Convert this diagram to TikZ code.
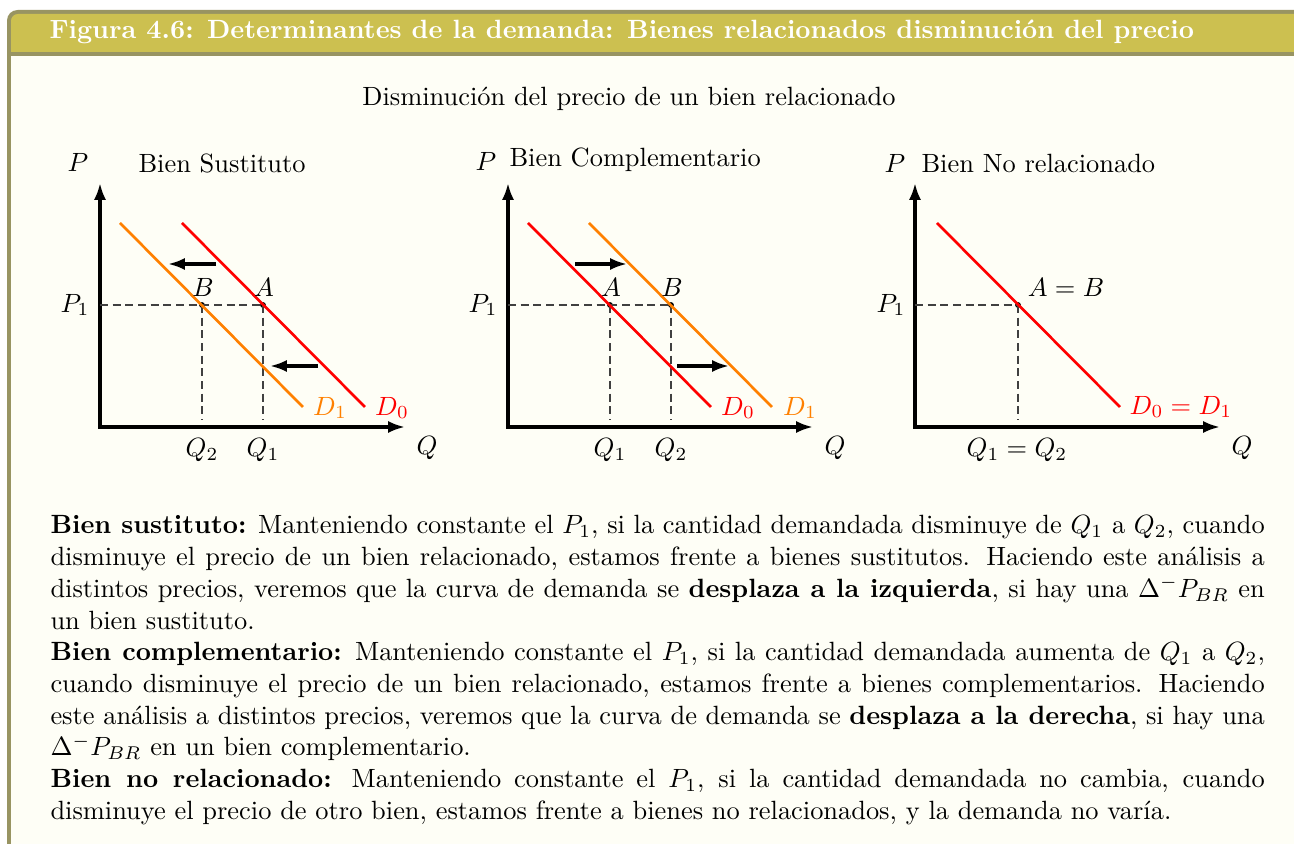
\documentclass[tikz,border=0pt]{standalone}
\usetikzlibrary{arrows.meta}
\definecolor{frameC}{RGB}{152,148,98}
\definecolor{titleC}{RGB}{204,192,80}
\definecolor{backC}{RGB}{254,254,246}
\definecolor{orangeC}{RGB}{255,128,0}
\tikzset{
  axis/.style={line width=1.2pt,{Latex[length=6.4pt,width=4.6pt]}-{Latex[length=6.4pt,width=4.6pt]}},
  shiftarrow/.style={line width=1.2pt,-{Latex[length=6.4pt,width=4.6pt]}},
  demred/.style={line width=1pt,red},
  demorange/.style={line width=1pt,orangeC},
  guide/.style={line width=0.45pt,black!75,dash pattern=on 3pt off 1.8pt},
  dotpt/.style={circle,fill=black,inner sep=0pt,minimum size=2.2pt},
  lbl/.style={inner sep=0pt}
}
\begin{document}
\begin{tikzpicture}[x=0.3788pt,y=-0.3788pt]
\useasboundingbox (0,0) rectangle (1294,844);
\clip (0,0) rectangle (1294,844);
\fill[white] (0,0) rectangle (1294,844);
% box frame
\fill[frameC,rounded corners=4pt] (7,10) rectangle (1330,900);
\fill[titleC,rounded corners=2.6pt] (11,70) -- (11,14) -- (1330,14) -- (1330,70) -- cycle;
\fill[frameC] (11,52) rectangle (1330,56);
\fill[backC] (11,56) rectangle (1330,900);
\node[lbl,anchor=base west,text=white,font=\bfseries] (title) at (49,39)
  {Figura 4.6: Determinantes de la demanda: Bienes relacionados disminución del precio};
\node[lbl,anchor=base] (sub) at (629,106) {Disminución del precio de un bien relacionado};

% ---------- Graph 1: Bien Sustituto ----------
\coordinate (o1) at (100,427);
\coordinate (y1) at (100,183);
\coordinate (x1) at (405,427);
\draw[axis] (y1) -- (o1) -- (x1);
\node[lbl,anchor=base] (P1ax) at (78,172) {$P$};
\node[lbl,anchor=base west] (t1) at (138,173) {Bien Sustituto};
\node[lbl] (Qax1) at (427,448) {$Q$};
\coordinate (d0a1) at (182,223); \coordinate (d0b1) at (365,407);
\coordinate (d1a1) at (120,223); \coordinate (d1b1) at (303,407);
\coordinate (p1l1) at (100,305);
\coordinate (qa1) at (263,420); \coordinate (qb1) at (202,420);
\node[dotpt] (A1) at (263,305) {};
\node[dotpt] (B1) at (202,305) {};
\draw[guide] (p1l1) -- (A1.center);
\draw[guide] (A1.center) -- (qa1);
\draw[guide] (B1.center) -- (qb1);
\draw[demorange] (d1a1) -- (d1b1);
\draw[demred] (d0a1) -- (d0b1);
\node[lbl] (lA1) at (264,287) {$A$};
\node[lbl] (lB1) at (203,287) {$B$};
\node[lbl] (lP11) at (75,305) {$P_1$};
\node[lbl] (lQ21) at (202,450) {$Q_2$};
\node[lbl] (lQ11) at (263,450) {$Q_1$};
\node[lbl,text=orangeC] (lD11) at (330,408) {$D_1$};
\node[lbl,text=red] (lD01) at (392,408) {$D_0$};
\coordinate (s1a) at (216,264); \coordinate (s1b) at (168,264);
\coordinate (s2a) at (318,366); \coordinate (s2b) at (270,366);
\draw[shiftarrow] (s1a) -- (s1b);
\draw[shiftarrow] (s2a) -- (s2b);

% ---------- Graph 2: Bien Complementario ----------
\coordinate (o2) at (508,427);
\coordinate (y2) at (508,183);
\coordinate (x2) at (813,427);
\draw[axis] (y2) -- (o2) -- (x2);
\node[lbl,anchor=base] (P2ax) at (486,171) {$P$};
\node[lbl,anchor=base west] (t2) at (509,167) {Bien Complementario};
\node[lbl] (Qax2) at (835,448) {$Q$};
\coordinate (d0a2) at (528,223); \coordinate (d0b2) at (711,407);
\coordinate (d1a2) at (589,223); \coordinate (d1b2) at (772,407);
\coordinate (p1l2) at (508,305);
\coordinate (qa2) at (610,420); \coordinate (qb2) at (671,420);
\node[dotpt] (A2) at (610,305) {};
\node[dotpt] (B2) at (671,305) {};
\draw[guide] (p1l2) -- (B2.center);
\draw[guide] (A2.center) -- (qa2);
\draw[guide] (B2.center) -- (qb2);
\draw[demred] (d0a2) -- (d0b2);
\draw[demorange] (d1a2) -- (d1b2);
\node[lbl] (lA2) at (611,287) {$A$};
\node[lbl] (lB2) at (672,287) {$B$};
\node[lbl] (lP12) at (483,305) {$P_1$};
\node[lbl] (lQ12) at (610,450) {$Q_1$};
\node[lbl] (lQ22) at (671,450) {$Q_2$};
\node[lbl,text=red] (lD02) at (738,408) {$D_0$};
\node[lbl,text=orangeC] (lD12) at (800,408) {$D_1$};
\coordinate (s3a) at (575,264); \coordinate (s3b) at (627,264);
\coordinate (s4a) at (677,366); \coordinate (s4b) at (729,366);
\draw[shiftarrow] (s3a) -- (s3b);
\draw[shiftarrow] (s4a) -- (s4b);

% ---------- Graph 3: Bien No relacionado ----------
\coordinate (o3) at (915,427);
\coordinate (y3) at (915,183);
\coordinate (x3) at (1220,427);
\draw[axis] (y3) -- (o3) -- (x3);
\node[lbl,anchor=base] (P3ax) at (895,173) {$P$};
\node[lbl,anchor=base west] (t3) at (921,173) {Bien No relacionado};
\node[lbl] (Qax3) at (1242,448) {$Q$};
\coordinate (d0a3) at (937,223); \coordinate (d0b3) at (1120,407);
\coordinate (p1l3) at (915,305);
\coordinate (qa3) at (1018,420);
\node[dotpt] (A3) at (1018,305) {};
\draw[guide] (p1l3) -- (A3.center);
\draw[guide] (A3.center) -- (qa3);
\draw[demred] (d0a3) -- (d0b3);
\node[lbl] (lAB3) at (1066,287) {$A=B$};
\node[lbl] (lP13) at (891,305) {$P_1$};
\node[lbl] (lQQ3) at (1017,450) {$Q_1=Q_2$};
\node[lbl,text=red] (lDD3) at (1181,407) {$D_0=D_1$};

% ---------- Body text ----------
\node[lbl,anchor=base west] (body) at (50,534) {\begin{minipage}[t]{460pt}%
\setlength{\parindent}{0pt}\setlength{\parskip}{0pt}\hyphenpenalty=10000\exhyphenpenalty=10000
\textbf{Bien sustituto:} Manteniendo constante el $P_1$, si la cantidad demandada disminuye de $Q_1$ a $Q_2$, cuando\linebreak
disminuye el precio de un bien relacionado, estamos frente a bienes sustitutos. Haciendo este análisis a\linebreak
distintos precios, veremos que la curva de demanda se \textbf{desplaza a la izquierda}, si hay una $\Delta^-P_{BR}$ en\linebreak
un bien sustituto.\par
\textbf{Bien complementario:} Manteniendo constante el $P_1$, si la cantidad demandada aumenta de $Q_1$ a $Q_2$,\linebreak
cuando disminuye el precio de un bien relacionado, estamos frente a bienes complementarios. Haciendo\linebreak
este análisis a distintos precios, veremos que la curva de demanda se \textbf{desplaza a la derecha}, si hay una\linebreak
$\Delta^-P_{BR}$ en un bien complementario.\par
\textbf{Bien no relacionado:} Manteniendo constante el $P_1$, si la cantidad demandada no cambia, cuando\linebreak
disminuye el precio de otro bien, estamos frente a bienes no relacionados, y la demanda no varía.
\end{minipage}};
\end{tikzpicture}
\end{document}
